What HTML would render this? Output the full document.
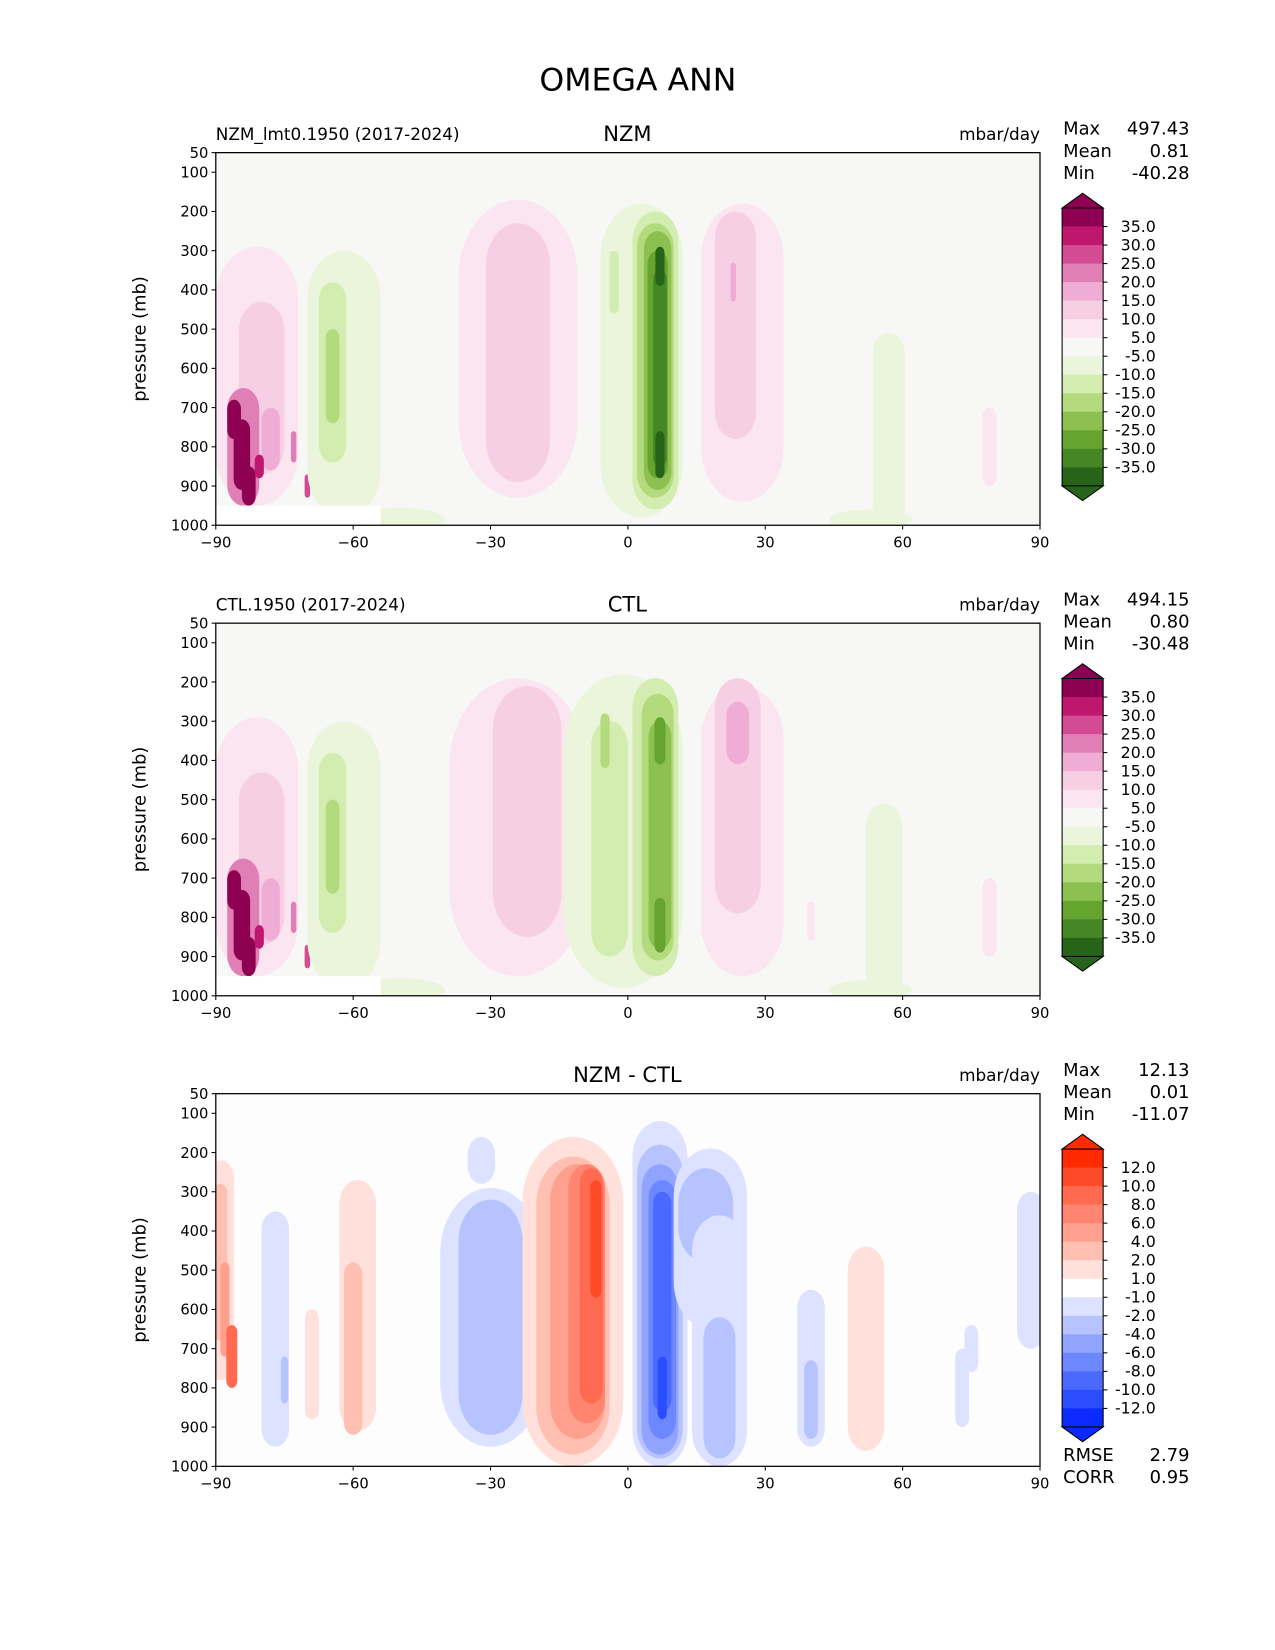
<!DOCTYPE html>
<html><head><meta charset="utf-8">
<style>
html,body{margin:0;padding:0;background:#fff;}
svg{display:block;font-family:"DejaVu Sans","Liberation Sans",sans-serif;}
</style></head>
<body>
<svg id="fig" width="1275" height="1650" viewBox="0 0 1211.25 1567.5" xmlns="http://www.w3.org/2000/svg">
<rect x="0" y="0" width="1211.25" height="1567.5" fill="#fff"/>
<text x="606" y="86" font-size="30" text-anchor="middle">OMEGA ANN</text>
</svg>
<script>
// ---- data ----
const latTicks = [-90,-60,-30,0,30,60,90];
const presTicks = [50,100,200,300,400,500,600,700,800,900,1000];
const fieldLevels = ["35.0","30.0","25.0","20.0","15.0","10.0","5.0","-5.0","-10.0","-15.0","-20.0","-25.0","-30.0","-35.0"];
const diffLevels = ["12.0","10.0","8.0","6.0","4.0","2.0","1.0","-1.0","-2.0","-4.0","-6.0","-8.0","-10.0","-12.0"];
const fieldColors = ["#8e0152","#c0176e","#d24b93","#e07fb5","#efadd5","#f7cfe5","#fbe5f0","#f7f7f5","#ebf5dc","#d3ecb0","#b3db7d","#8cc051","#66a430","#458625","#276419"];
const diffColors = ["#ff2a00","#ff4a2a","#ff6a50","#ff8570","#ffa08e","#ffc0b2","#ffe0da","#ffffff","#dce2ff","#b7c3ff","#8fa3ff","#6c87ff","#4a6aff","#2a4eff","#0a2aff"];
const fieldBounds = [35,30,25,20,15,10,5,-5,-10,-15,-20,-25,-30,-35];
const diffBounds = [12,10,8,6,4,2,1,-1,-2,-4,-6,-8,-10,-12];
// blobs: [lat, pressure, halfWidthLat, halfHeightMb, value]
const nzmBlobs = [
 [-81,620,9,330,7],[-80,650,5,220,12],[-78,780,2,80,17],[-84,800,3.5,150,22],
 [-86,730,1.5,50,40],[-84.3,820,1.8,90,40],[-82.8,900,1.5,50,40],[-80.5,850,1,30,32],
 [-73,800,0.6,40,22],[-70,900,0.6,30,25],
 [-62,640,8,340,-7],[-50,985,10,30,-7],[-64.5,610,3,230,-12],[-64.5,620,1.5,120,-17],
 [-24,550,13,380,7],[-24,560,7,330,12],
 [3,580,9,400,-7],[-3,380,1,80,-12],[6,580,5,380,-12],[6,580,4,350,-17],[6.5,580,3,330,-22],[6.5,590,2.2,290,-27],[7,600,1.5,250,-32],[7,340,1,50,-37],[7,820,1,60,-37],
 [25,560,9,380,7],[23.5,490,4.5,290,12],[23,380,0.6,50,17],
 [57,760,3.5,250,-7],[53,985,9,25,-7],
 [79,800,1.5,100,7]
];
const ctlBlobs = [
 [-81,620,9,330,7],[-80,650,5,220,12],[-78,780,2,80,17],[-84,800,3.5,150,22],
 [-86,730,1.5,50,40],[-84.3,820,1.8,90,40],[-82.8,900,1.5,50,40],[-80.5,850,1,30,32],
 [-73,800,0.6,40,22],[-70,900,0.6,30,25],
 [-62,640,8,340,-7],[-50,985,10,30,-7],[-64.5,610,3,230,-12],[-64.5,620,1.5,120,-17],
 [-24,570,15,380,7],[-22,530,7.5,320,12],
 [-1,580,13,400,-7],[-4,600,4,300,-12],[-5,350,1,70,-17],[6,570,5,380,-12],[6.5,570,3.5,340,-17],[7,590,2.5,290,-22],[7,350,1.2,60,-27],[7,820,1.2,70,-27],
 [25,580,9,370,7],[24,490,5,300,12],[24,330,2.5,80,17],
 [56,760,4,250,-7],[53,985,9,25,-7],
 [79,800,1.5,100,7],[40,810,0.8,50,7]
];
const diffBlobs = [
 [-89,500,3,280,1.5],[-89,480,1.5,200,3],[-88,600,1,120,5],[-86.5,720,1.2,80,9],
 [-77,650,3,300,-1.5],[-75,780,0.8,60,-3],
 [-69,740,1.5,140,1.5],
 [-59,590,4,320,1.5],[-60,700,2,220,3],
 [-30,620,11,330,-1.5],[-30,620,7,300,-3],[-32,220,3,60,-1.5],
 [-12,580,11,420,1.5],[-12,590,8,380,3],[-11,580,6,350,5],[-9,560,4,330,7],[-8,540,2.5,300,9],[-7,420,1.2,150,11],
 [7,560,6,440,-1.5],[7,580,5,400,-3],[7,600,4,370,-5],[7.5,600,3,330,-7],[7.5,580,2,280,-9],[7.5,800,1,80,-11],
 [18,420,8,230,-1.5],[17,360,6,120,-3],[20,680,6,320,-1.5],[20,800,3.5,180,-3],
 [40,750,3,200,-1.5],[40,830,1.5,100,-3],
 [52,700,4,260,1.5],
 [88,500,3,200,-1.5],[75,700,1.5,60,-1.5],[73,800,1.5,100,-1.5]
];
const panels = [
 {name:"nzm",top:145,title:"NZM",left:"NZM_lmt0.1950 (2017-2024)",stats:["497.43","0.81","-40.28"],blobs:nzmBlobs,diff:false,bg:"#f7f7f5"},
 {name:"ctl",top:592,title:"CTL",left:"CTL.1950 (2017-2024)",stats:["494.15","0.80","-30.48"],blobs:ctlBlobs,diff:false,bg:"#f7f7f5"},
 {name:"diff",top:1039,title:"NZM - CTL",left:"",stats:["12.13","0.01","-11.07"],blobs:diffBlobs,diff:true,bg:"#fdfdfd"}
];
// ---- drawing ----
const NS="http://www.w3.org/2000/svg";
const svg=document.getElementById('fig');
const X0=205,X1=988,H=354;
function xs(lat){return X0+(lat+90)*(X1-X0)/180;}
function el(tag,attrs,parent){const e=document.createElementNS(NS,tag);for(const k in attrs)e.setAttribute(k,attrs[k]);(parent||svg).appendChild(e);return e;}
function colorFor(v,diff){
 const b=diff?diffBounds:fieldBounds, c=diff?diffColors:fieldColors;
 for(let i=0;i<b.length;i++){ if(v>=b[i]) return c[i]; }
 return c[c.length-1];
}
panels.forEach((P,pi)=>{
 const ys=p=>P.top+(p-50)*H/950;
 const g=el('g',{});
 
 
 const cid='clip'+pi;
 const cp=el('clipPath',{id:cid},g);
 el('rect',{x:X0,y:P.top,width:X1-X0,height:H},cp);
 const plot=el('g',{'clip-path':'url(#'+cid+')'},g);
 
 
 el('rect',{x:X0,y:P.top,width:X1-X0,height:H,fill:P.bg},plot);
 P.blobs.forEach(b=>{
  const cx=xs(b[0]), cy=ys(b[1]);
  const w=(xs(b[0]+b[2])-cx), h=(ys(b[1]+b[3])-cy);
  const r=el('rect',{x:cx-w,y:cy-h,width:2*w,height:2*h,rx:w,ry:Math.min(h,w*1.3),fill:colorFor(b[4],P.diff)},plot);
  
  
 });
 if(!P.diff){
  const m=el('rect',{x:xs(-90),y:ys(950),width:xs(-54)-xs(-90),height:ys(1000)-ys(950),fill:'#fff'},plot);
  
  
 }
 const frame=el('rect',{x:X0,y:P.top,width:X1-X0,height:H,fill:'none',stroke:'#000','stroke-width':1.2},g);
 
 
 presTicks.forEach(p=>{
  const y=ys(p);
  el('line',{x1:X0-4,x2:X0,y1:y,y2:y,stroke:'#000','stroke-width':1},g);
  const t=el('text',{x:X0-7,y:y+5,'font-size':14,'text-anchor':'end'},g);
  t.textContent=p;
  
  
 });
 latTicks.forEach(l=>{
  const x=xs(l);
  el('line',{x1:x,x2:x,y1:P.top+H,y2:P.top+H+4,stroke:'#000','stroke-width':1},g);
  const t=el('text',{x:x,y:P.top+H+21,'font-size':14,'text-anchor':'middle'},g);
  t.textContent=(l<0?'\u2212'+(-l):l);
  
  
 });
 const yl=el('text',{x:0,y:0,'font-size':17,'text-anchor':'middle',transform:'translate(138,'+(P.top+H/2)+') rotate(-90)'},g);
 yl.textContent='pressure (mb)';
 
 
 const tt=el('text',{x:596,y:P.top-11,'font-size':20,'text-anchor':'middle'},g);
 tt.textContent=P.title;
 
 
 if(P.left){const lt=el('text',{x:X0,y:P.top-12,'font-size':16},g);lt.textContent=P.left;
  
  }
 const ut=el('text',{x:X1,y:P.top-12,'font-size':16,'text-anchor':'end'},g);
 ut.textContent='mbar/day';
 
 
 ['Max','Mean','Min'].forEach((n,i)=>{
  const y=P.top-17+i*21;
  const a=el('text',{x:1010,y:y,'font-size':17},g);a.textContent=n;
  
  
  const v=el('text',{x:1130,y:y,'font-size':17,'text-anchor':'end'},g);v.textContent=P.stats[i];
  
  
 });
 // colorbar
 const cb=el('g',{},g);
 
 
 const cols=P.diff?diffColors:fieldColors, labs=P.diff?diffLevels:fieldLevels;
 const cx0=1009,cx1=1048,ct=P.top+52.6,step=17.6;
 const cbot=ct+step*cols.length;
 cols.forEach((c,i)=>{el('rect',{x:cx0,y:ct+i*step,width:cx1-cx0,height:step+0.5,fill:c},cb);});
 el('polygon',{points:`${cx0},${ct} ${(cx0+cx1)/2},${ct-14} ${cx1},${ct}`,fill:cols[0],stroke:'#000','stroke-width':1},cb);
 el('polygon',{points:`${cx0},${cbot} ${(cx0+cx1)/2},${cbot+14} ${cx1},${cbot}`,fill:cols[cols.length-1],stroke:'#000','stroke-width':1},cb);
 el('line',{x1:cx0,x2:cx0,y1:ct,y2:cbot,stroke:'#000','stroke-width':1},cb);
 el('line',{x1:cx1,x2:cx1,y1:ct,y2:cbot,stroke:'#000','stroke-width':1},cb);
 labs.forEach((l,i)=>{
  const y=ct+(i+1)*step;
  el('line',{x1:cx1,x2:cx1+4,y1:y,y2:y,stroke:'#000','stroke-width':1},cb);
  const t=el('text',{x:1098,y:y+5,'font-size':15,'text-anchor':'end'},cb);
  t.textContent=l;
  
  
 });
 if(P.diff){
  [['RMSE','2.79'],['CORR','0.95']].forEach((r,i)=>{
   const y=P.top+H-5+i*21;
   const a=el('text',{x:1010,y:y,'font-size':17},g);a.textContent=r[0];
   
   
   const v=el('text',{x:1130,y:y,'font-size':17,'text-anchor':'end'},g);v.textContent=r[1];
   
   
  });
 }
});
</script>
</body></html>
